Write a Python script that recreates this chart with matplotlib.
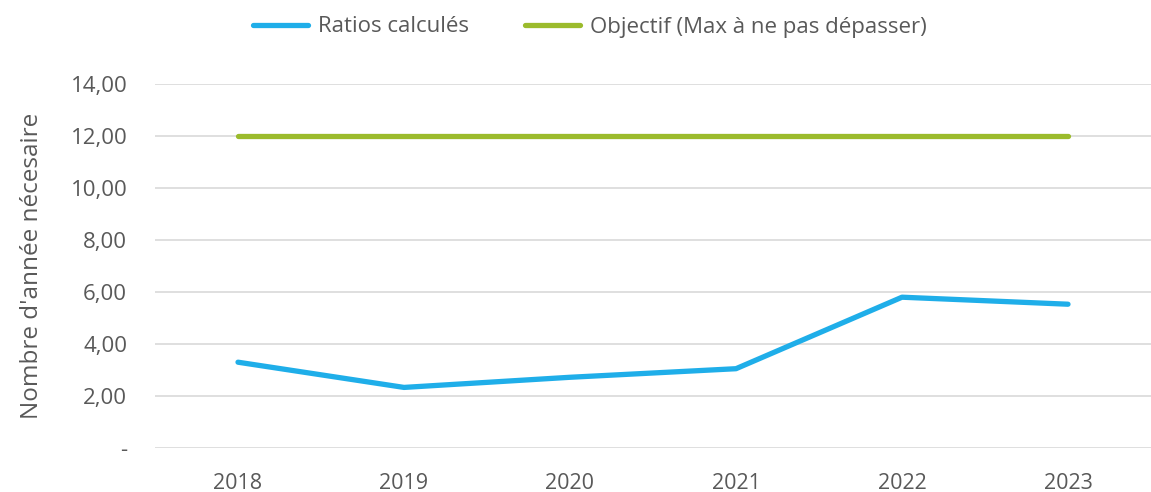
import matplotlib
matplotlib.use("Agg")
import matplotlib.pyplot as plt
from matplotlib.ticker import FixedLocator, FuncFormatter

years = ["2018", "2019", "2020", "2021", "2022", "2023"]
ratios = [3.30, 2.33, 2.72, 3.05, 5.80, 5.53]
objectif = [12.0, 12.0, 12.0, 12.0, 12.0, 12.0]
y_ticks = [0, 2, 4, 6, 8, 10, 12, 14]

BLUE = "#1FAEE9"
GREEN = "#9BBB2C"
TEXT = "#595959"
GRID = "#D9D9D9"

plt.rcParams["font.family"] = ["Open Sans", "DejaVu Sans"]

fig = plt.figure(figsize=(11.51, 4.92), dpi=100)
ax = fig.add_axes([155 / 1151, 44 / 492, 996 / 1151, 364 / 492])

x = list(range(len(years)))
ax.plot(x, ratios, color=BLUE, lw=3.8, solid_capstyle="round",
        solid_joinstyle="round", label="Ratios calculés", zorder=3)
ax.plot(x, objectif, color=GREEN, lw=3.8, solid_capstyle="round",
        label="Objectif (Max à ne pas dépasser)", zorder=3)

ax.set_xlim(-0.5, len(years) - 0.5)
ax.set_ylim(0, 14)
ax.yaxis.set_major_locator(FixedLocator(y_ticks))
ax.yaxis.set_major_formatter(FuncFormatter(
    lambda v, _: "-" if v == 0 else f"{v:.2f}".replace(".", ",")))
ax.set_xticks(x)
ax.set_xticklabels(years)

ax.grid(axis="y", color=GRID, lw=1.2, zorder=0)
for s in ax.spines.values():
    s.set_visible(False)
ax.tick_params(axis="y", length=0, colors=TEXT, labelsize=16, pad=20)
ax.tick_params(axis="x", length=0, colors=TEXT, labelsize=15.5, pad=18)

fig.text(32 / 1151, 1 - 266 / 492, "Nombre d'année nécesaire", color=TEXT,
         fontsize=17.5, rotation=90, ha="center", va="center")

fig.legend(loc="center", bbox_to_anchor=(590 / 1151, 1 - 27 / 492),
           ncol=2, frameon=False, fontsize=16, labelcolor=TEXT,
           handlelength=2.5, handletextpad=0.45, columnspacing=2.5)

fig.savefig("out.png", dpi=100)
